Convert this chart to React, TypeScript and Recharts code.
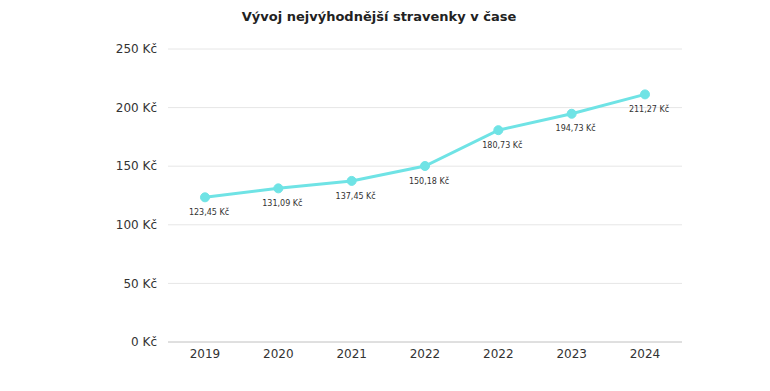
import React from 'react'
import { LineChart, Line, XAxis, YAxis, CartesianGrid, LabelList } from 'recharts'

const years = ['2019', '2020', '2021', '2022', '2022', '2023', '2024']
const prices = [123.45, 131.09, 137.45, 150.18, 180.73, 194.73, 211.27]
const yTicks = [0, 50, 100, 150, 200, 250]

const data = years.map((year, i) => ({ idx: i, year, price: prices[i] }))

const font = '"DejaVu Sans", Verdana, sans-serif'
const czk = (v: number) => v.toFixed(2).replace('.', ',') + ' Kč'

export default function App() {
  return (
    <div style={{ position: 'absolute', left: 0, top: 0, width: 770, height: 391, fontFamily: font }}>
      <div
        style={{
          position: 'absolute',
          top: 9,
          left: -6,
          width: 770,
          textAlign: 'center',
          fontWeight: 'bold',
          fontSize: 13,
          color: '#222',
        }}
      >
        Vývoj nejvýhodnější stravenky v čase
      </div>
      <LineChart
        width={770}
        height={391}
        data={data}
        margin={{ top: 49, right: 88, bottom: 19, left: 0 }}
      >
        <CartesianGrid vertical={false} stroke="#e6e6e6" />
        <XAxis
          dataKey="idx"
          type="category"
          padding={{ left: 37, right: 37 }}
          height={30}
          tickLine={false}
          axisLine={{ stroke: '#cccccc' }}
          tickFormatter={(i: number) => years[i]}
          tick={{ fill: '#333', fontSize: 12, fontFamily: font }}
          tickMargin={1}
        />
        <YAxis
          width={168}
          domain={[0, 250]}
          ticks={yTicks}
          axisLine={false}
          tickLine={false}
          tickSize={0}
          tickMargin={11}
          tickFormatter={(v: number) => `${v} Kč`}
          tick={{ fill: '#333', fontSize: 12, fontFamily: font }}
        />
        <Line
          type="linear"
          dataKey="price"
          stroke="#6fe3e5"
          strokeWidth={3}
          dot={{ r: 4.5, fill: '#6fe3e5', stroke: '#6fe3e5', strokeWidth: 1 }}
          activeDot={false}
          isAnimationActive={false}
        >
          <LabelList
            dataKey="price"
            position="bottom"
            offset={12}
            dx={4}
            formatter={(v: any) => czk(Number(v))}
            style={{ fontSize: 8, fill: '#333', fontFamily: font }}
          />
        </Line>
      </LineChart>
    </div>
  )
}
